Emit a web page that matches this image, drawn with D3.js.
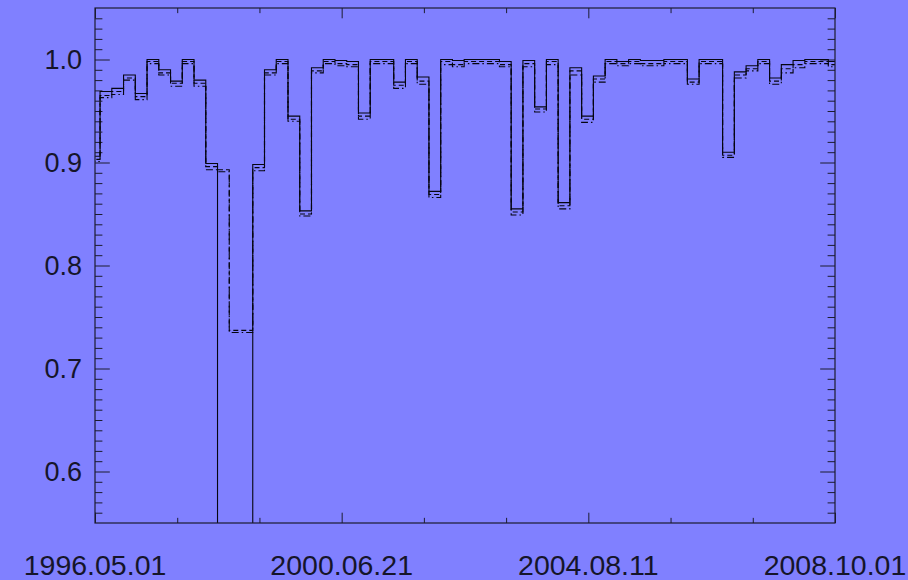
<!DOCTYPE html>
<html>
<head>
<meta charset="utf-8">
<script src="https://cdn.jsdelivr.net/npm/d3@7"></script>
<style>
  body { margin: 0; background: #8080ff; }
  svg { display: block; }
  text { font-family: "Liberation Sans", Arial, sans-serif; }
</style>
</head>
<body>
<div id="chart"></div>
<script>
// bins of 72 days, first one starts 1996-03-21 (clipped at the axis)
var binStart = "1996-03-21",
    binDays = 72;

// three estimates per bin: solid, dashed, dash-dot
var seriesSolid = [
  0.906, 0.969, 0.972, 0.985, 0.967, 1.000, 0.990, 0.979, 1.000, 0.980,
  0.899, 0.300, 0.300, 0.300, 0.898, 0.990, 1.000, 0.945, 0.853, 0.992,
  1.000, 0.999, 0.998, 0.948, 1.000, 1.000, 0.978, 1.000, 0.983, 0.872,
  1.000, 0.999, 1.000, 1.000, 1.000, 0.998, 0.855, 0.999, 0.954, 1.000,
  0.861, 0.992, 0.945, 0.984, 1.000, 0.998, 1.000, 0.999, 0.999, 1.000,
  1.000, 0.981, 1.000, 1.000, 0.910, 0.988, 0.994, 1.000, 0.982, 0.995,
  0.999, 1.000, 1.000, 0.998
];
var seriesDashed = [
  0.903, 0.965, 0.969, 0.982, 0.964, 0.998, 0.987, 0.977, 0.998, 0.977,
  0.896, 0.893, 0.737, 0.737, 0.895, 0.987, 0.998, 0.942, 0.850, 0.989,
  0.998, 0.996, 0.995, 0.945, 0.998, 0.998, 0.975, 0.998, 0.979, 0.869,
  0.998, 0.995, 0.998, 0.998, 0.998, 0.995, 0.852, 0.996, 0.952, 0.998,
  0.858, 0.989, 0.942, 0.981, 0.998, 0.996, 0.998, 0.996, 0.996, 0.998,
  0.998, 0.978, 0.998, 0.998, 0.907, 0.985, 0.991, 0.998, 0.979, 0.991,
  0.995, 0.998, 0.998, 0.995
];
var seriesDashDot = [
  0.901, 0.963, 0.966, 0.980, 0.961, 0.996, 0.985, 0.974, 0.996, 0.974,
  0.893, 0.891, 0.735, 0.735, 0.892, 0.985, 0.996, 0.940, 0.848, 0.987,
  0.996, 0.994, 0.993, 0.942, 0.996, 0.996, 0.972, 0.996, 0.976, 0.866,
  0.995, 0.993, 0.996, 0.996, 0.996, 0.993, 0.849, 0.993, 0.949, 0.995,
  0.855, 0.985, 0.939, 0.978, 0.996, 0.994, 0.996, 0.994, 0.994, 0.996,
  0.996, 0.976, 0.996, 0.996, 0.905, 0.982, 0.989, 0.996, 0.976, 0.987,
  0.992, 0.996, 0.996, 0.993
];

var xMajorLabels = ["1996.05.01", "2000.06.21", "2004.08.11", "2008.10.01"];
var yMajorTicks = [0.6, 0.7, 0.8, 0.9, 1.0];

var margin = {top: 8, right: 73, bottom: 57, left: 95},
    width = 908 - margin.left - margin.right,
    height = 580 - margin.top - margin.bottom;

var parseDay = d3.utcParse("%Y.%m.%d");
var xTickDates = xMajorLabels.map(function(d){ return parseDay(d) });

var svg = d3.select("#chart")
  .append("svg")
    .attr("width", 908)
    .attr("height", 580)
  .append("g")
    .attr("transform", "translate(" + margin.left + "," + margin.top + ")");

var xScale = d3.scaleUtc()
    .domain([xTickDates[0], xTickDates[xTickDates.length - 1]])
    .range([0, width]);

var yScale = d3.scaleLinear()
    .domain([0.55, 1.05])
    .range([height, 0]);

// minor x ticks: thirds of each major interval
var xMinorDates = [];
for (var i = 0; i < xTickDates.length - 1; i++){
  var span = (xTickDates[i + 1] - xTickDates[i]) / 3;
  xMinorDates.push(new Date(+xTickDates[i] + span));
  xMinorDates.push(new Date(+xTickDates[i] + 2 * span));
}
var yMinorTicks = d3.range(56, 105)
  .filter(function(i){ return i % 10 != 0 })
  .map(function(i){ return i / 100 });

// tick lengths like IDL: 2% of the plot size
var xMajLen = height * 0.02, xMinLen = xMajLen / 2,
    yMajLen = width * 0.02,  yMinLen = yMajLen / 2;

var axisColor = "#1c1c30";

function styleAxis(g){
  g.select(".domain").remove();
  g.selectAll("line").attr("stroke", axisColor).attr("stroke-width", 1);
  g.selectAll("text").remove();
}

svg.append("g").attr("transform", "translate(0," + height + ")")
  .call(d3.axisBottom(xScale).tickValues(xTickDates).tickSize(-xMajLen)).call(styleAxis);
svg.append("g").attr("transform", "translate(0," + height + ")")
  .call(d3.axisBottom(xScale).tickValues(xMinorDates).tickSize(-xMinLen)).call(styleAxis);
svg.append("g")
  .call(d3.axisTop(xScale).tickValues(xTickDates).tickSize(-xMajLen)).call(styleAxis);
svg.append("g")
  .call(d3.axisTop(xScale).tickValues(xMinorDates).tickSize(-xMinLen)).call(styleAxis);

svg.append("g")
  .call(d3.axisLeft(yScale).tickValues(yMajorTicks).tickSize(-yMajLen)).call(styleAxis);
svg.append("g")
  .call(d3.axisLeft(yScale).tickValues(yMinorTicks).tickSize(-yMinLen)).call(styleAxis);
svg.append("g").attr("transform", "translate(" + width + ",0)")
  .call(d3.axisRight(yScale).tickValues(yMajorTicks).tickSize(-yMajLen)).call(styleAxis);
svg.append("g").attr("transform", "translate(" + width + ",0)")
  .call(d3.axisRight(yScale).tickValues(yMinorTicks).tickSize(-yMinLen)).call(styleAxis);

// labels
svg.selectAll(".xlab")
  .data(xMajorLabels)
  .enter().append("text")
  .attr("class", "xlab")
  .attr("x", function(d, i){ return xScale(xTickDates[i]) })
  .attr("y", height + 52)
  .attr("text-anchor", "middle")
  .attr("font-size", "28.5px")
  .attr("fill", "#15152a")
  .text(function(d){ return d });

svg.selectAll(".ylab")
  .data(yMajorTicks)
  .enter().append("text")
  .attr("class", "ylab")
  .attr("x", -13)
  .attr("y", function(d){ return yScale(d) })
  .attr("dy", "0.36em")
  .attr("text-anchor", "end")
  .attr("font-size", "27px")
  .attr("fill", "#15152a")
  .text(function(d){ return d3.format(".1f")(d) });

// step curves
svg.append("clipPath").attr("id", "plotclip")
  .append("rect").attr("width", width).attr("height", height);

var start = d3.utcParse("%Y-%m-%d")(binStart);
function binEdge(k){ return d3.utcDay.offset(start, k * binDays) }

var lineGen = d3.line()
  .x(function(d){ return xScale(d[0]) })
  .y(function(d){ return yScale(d[1]) })
  .curve(d3.curveStepAfter);

function stepPoints(values){
  var pts = values.map(function(v, k){ return [binEdge(k), v] });
  pts.push([binEdge(values.length), values[values.length - 1]]);
  return pts;
}

var series = [
  {values: seriesDashDot, dash: "7,3,1.5,3"},
  {values: seriesDashed, dash: "5,3"},
  {values: seriesSolid, dash: null}
];

var plot = svg.append("g").attr("clip-path", "url(#plotclip)");
plot.selectAll(".step")
  .data(series)
  .enter().append("path")
  .attr("class", "step")
  .attr("d", function(d){ return lineGen(stepPoints(d.values)) })
  .attr("fill", "none")
  .attr("stroke", "#050510")
  .attr("stroke-width", 1.1)
  .attr("stroke-dasharray", function(d){ return d.dash });

// frame
svg.append("rect")
  .attr("width", width)
  .attr("height", height)
  .attr("fill", "none")
  .attr("stroke", axisColor)
  .attr("stroke-width", 1.2);
</script>
</body>
</html>
